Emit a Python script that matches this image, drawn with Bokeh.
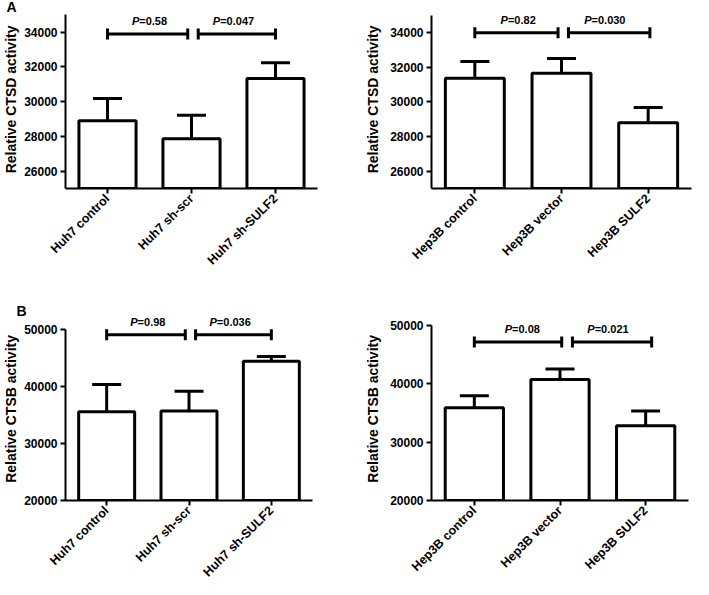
import math
from bokeh.plotting import figure
from bokeh.models import (FactorRange, Range1d, FixedTicker, Whisker, TeeHead,
                          ColumnDataSource)
from bokeh.layouts import column, row
from bokeh.core.properties import value
from bokeh.embed import file_html
from bokeh.resources import INLINE

# ---------------- data ----------------
huh7_groups = ["Huh7 control", "Huh7 sh-scr", "Huh7 sh-SULF2"]
hep3b_groups = ["Hep3B control", "Hep3B vector", "Hep3B SULF2"]

ctsd_huh7_mean = [28900, 27870, 31330]
ctsd_huh7_sem = [1290, 1350, 920]
ctsd_hep3b_mean = [31370, 31650, 28800]
ctsd_hep3b_sem = [960, 850, 870]

ctsb_huh7_mean = [35570, 35690, 44450]
ctsb_huh7_sem = [4790, 3460, 810]
ctsb_hep3b_mean = [35910, 40770, 32830]
ctsb_hep3b_sem = [2060, 1780, 2510]

p_ctsd_huh7 = ["0.58", "0.047"]
p_ctsd_hep3b = ["0.82", "0.030"]
p_ctsb_huh7 = ["0.98", "0.036"]
p_ctsb_hep3b = ["0.08", "0.021"]

bracket_ctsd_huh7 = 33900
bracket_ctsd_hep3b = 34000
bracket_ctsb_huh7 = 49100
bracket_ctsb_hep3b = 47200

ctsd_axis = (25000, 35000)
ctsb_axis = (20000, 50000)
ctsd_ticks = [26000, 28000, 30000, 32000, 34000]
ctsb_ticks = [20000, 30000, 40000, 50000]

FONT = "Liberation Sans"
CHAR_W = {"=": 0.584, ".": 0.278}


def text_width(s, fs):
    return sum(CHAR_W.get(c, 0.556) for c in s) * fs


def make_panel(groups, means, sems, pvals, blevel, axis, ticks, ylabel, letter,
               width, height, bl, br, bt, bb, axis_top_px, lab_standoff, letter_x,
               letter_standoff, bracket_offsets=(0.0, -0.045, 0.08, 0.0), text_shift=0.5):
    y0, y1 = axis
    frame_bottom = height - bb
    # extend the range above the axis end so the P labels are not clipped
    y_end = y1 + (axis_top_px - bt) / (frame_bottom - axis_top_px) * (y1 - y0)
    p = figure(width=width, height=height, x_range=FactorRange(*groups, range_padding=0),
               y_range=Range1d(y0, y_end), output_backend="svg", toolbar_location=None,
               min_border_left=bl, min_border_right=br, min_border_top=bt,
               min_border_bottom=bb)
    p.outline_line_color = None
    p.grid.visible = False
    p.background_fill_color = "white"
    p.border_fill_color = "white"

    src = ColumnDataSource(dict(x=groups, mean=means,
                                upper=[m + s for m, s in zip(means, sems)]))
    p.vbar(x="x", top="mean", bottom=0, width=0.68, source=src,
           fill_color="white", line_color="black", line_width=3)
    wh = Whisker(source=src, base="x", upper="upper", lower="mean",
                 upper_head=TeeHead(size=29, line_width=3, line_color="black"),
                 lower_head=None, line_width=3, line_color="black", level="glyph")
    p.add_layout(wh)

    # significance brackets
    a0, a1, b0, b1 = bracket_offsets
    x0 = [(groups[0], a0), (groups[1], b0)]
    x1 = [(groups[1], a1), (groups[2], b1)]
    p.segment(x0=x0, y0=[blevel] * 2, x1=x1, y1=[blevel] * 2,
              line_color="black", line_width=3)
    p.scatter(x=x0 + x1, y=[blevel] * 4, marker="dash", angle=math.pi / 2,
              size=11, line_color="black", line_width=3)

    fs = 11
    mids = [(groups[0], text_shift), (groups[1], text_shift)]
    offs = []
    for pv in pvals:
        rest = "=" + pv
        wp = 0.667 * fs
        w = wp + text_width(rest, fs)
        offs.append(-w / 2 + wp)
    tsrc = ColumnDataSource(dict(x=mids, y=[blevel] * 2, rest=["=" + v for v in pvals],
                                 pp=["P", "P"], off=offs))
    p.text(x="x", y="y", text="pp", x_offset="off", y_offset=-13, source=tsrc,
           text_align="right", text_baseline="middle", text_font=value(FONT),
           text_font_style="bold italic", text_font_size=f"{fs}px", text_color="black")
    p.text(x="x", y="y", text="rest", x_offset="off", y_offset=-13, source=tsrc,
           text_align="left", text_baseline="middle", text_font=value(FONT),
           text_font_style="bold", text_font_size=f"{fs}px", text_color="black")

    # axes
    for ax in (p.xaxis[0], p.yaxis[0]):
        ax.axis_line_width = 2
        ax.axis_line_color = "black"
        ax.major_tick_line_width = 2
        ax.major_tick_line_color = "black"
        ax.major_tick_in = 0
        ax.major_tick_out = 5
        ax.minor_tick_line_color = None
        ax.major_label_text_font = FONT
        ax.major_label_text_font_style = "bold"
        ax.major_label_text_color = "black"
    p.yaxis[0].bounds = axis
    p.yaxis[0].ticker = FixedTicker(ticks=ticks)
    p.yaxis[0].major_label_text_font_size = "12px"
    p.yaxis[0].major_label_standoff = 3
    p.yaxis[0].axis_label = ylabel
    p.yaxis[0].axis_label_text_font = FONT
    p.yaxis[0].axis_label_text_font_style = "bold"
    p.yaxis[0].axis_label_text_font_size = "14px"
    p.yaxis[0].axis_label_text_color = "black"
    p.yaxis[0].axis_label_standoff = lab_standoff
    p.xaxis[0].major_label_orientation = math.pi / 4
    p.xaxis[0].major_label_text_font_size = "12.5px"
    p.xaxis[0].major_label_standoff = 3

    if letter:
        p.title.text = letter
        p.title.align = "left"
        p.title.vertical_align = "bottom"
        p.title.offset = letter_x - bl
        p.title.standoff = letter_standoff
        p.title.text_font = FONT
        p.title.text_font_style = "bold"
        p.title.text_font_size = "14px"
        p.title.text_color = "black"
    return p


p1 = make_panel(huh7_groups, ctsd_huh7_mean, ctsd_huh7_sem, p_ctsd_huh7,
                bracket_ctsd_huh7, ctsd_axis, ctsd_ticks, "Relative  CTSD activity", "A",
                362, 286, 60, 45, 6, 98, 14.4, 2, 1, -17)
p2 = make_panel(hep3b_groups, ctsd_hep3b_mean, ctsd_hep3b_sem, p_ctsd_hep3b,
                bracket_ctsd_hep3b, ctsd_axis, ctsd_ticks, "Relative  CTSD activity", None,
                330, 286, 63, 1, 6, 94, 15, 6, 0, 0,
                bracket_offsets=(0.0, -0.04, 0.08, 0.02))
p3 = make_panel(huh7_groups, ctsb_huh7_mean, ctsb_huh7_sem, p_ctsb_huh7,
                bracket_ctsb_huh7, ctsb_axis, ctsb_ticks, "Relative  CTSB activity", "B",
                362, 301, 54, 50, 27, 87, 43, 2, 5, -11)
p4 = make_panel(hep3b_groups, ctsb_hep3b_mean, ctsb_hep3b_sem, p_ctsb_hep3b,
                bracket_ctsb_hep3b, ctsb_axis, ctsb_ticks, "Relative  CTSB activity", None,
                330, 301, 59, 4, 27, 85, 39.3, 6, 0, 0,
                bracket_offsets=(0.0, 0.02, 0.145, 0.07), text_shift=0.56)

layout = column(row(p1, p2), row(p3, p4))
open("out.html", "w").write(file_html(layout, INLINE))
